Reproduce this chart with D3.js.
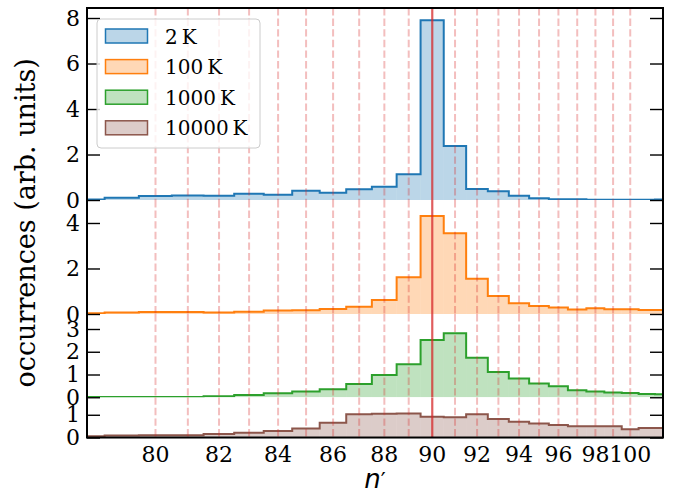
<html>
<head>
<script src="https://d3js.org/d3.v7.min.js"></script>
<style>
  body { margin: 0; background: #fff; }
</style>
</head>
<body>
<svg width="674" height="493"></svg>
<script>
// bins centred on integer n', edges at n' +- 0.5
var nVals = d3.range(78, 103);
var series2K = [0.02,0.10,0.18,0.20,0.19,0.28,0.23,0.41,0.32,0.47,0.58,1.13,7.90,2.37,0.48,0.38,0.19,0.08,0.03,0.03,0.01,0.01,0.01,0.01,0.02];
var series100K = [0.03,0.06,0.09,0.09,0.06,0.10,0.15,0.16,0.22,0.32,0.62,1.61,4.31,3.55,1.55,0.79,0.47,0.35,0.28,0.20,0.25,0.21,0.21,0.18,0.17];
var series1000K = [0.01,0.01,0.01,0.01,0.04,0.10,0.18,0.25,0.35,0.58,0.98,1.45,2.52,2.81,1.74,1.11,0.82,0.60,0.48,0.31,0.25,0.21,0.19,0.14,0.13];
var series10000K = [0.06,0.09,0.10,0.10,0.15,0.21,0.29,0.40,0.65,1.02,1.04,1.06,0.91,0.89,1.02,0.81,0.69,0.62,0.55,0.50,0.50,0.50,0.36,0.42,0.42];
var labels = ["2\u2009K", "100\u2009K", "1000\u2009K", "10000\u2009K"];
var colors = ["#1f77b4", "#ff7f0e", "#2ca02c", "#8c564b"];
var yMax = [8.44, 5.01, 3.66, 1.77];
var yTicks = [[0, 2, 4, 6, 8], [0, 2, 4], [0, 1, 2, 3], [0, 1]];
var xTicks = [80, 82, 84, 86, 88, 90, 92, 94, 96, 98, 100];
var refLines = d3.range(80, 101);
var nRes = 90;

var allSeries = [series2K, series100K, series1000K, series10000K];
var serif = "'DejaVu Serif', serif";

var svg = d3.select("svg");
var plotLeft = 87, plotRight = 663, plotTop = 8, pxPerUnit = 22.75;

// x axis is linear in -1/n'^2
function tr(n) { return -1 / (n * n); }
var X = d3.scaleLinear().domain([tr(78), tr(102)]).range([plotLeft, plotRight]);
function xn(n) { return X(tr(n)); }

var panelTop = plotTop;
allSeries.forEach(function(vals, k) {
  var h = yMax[k] * pxPerUnit;
  var Y = d3.scaleLinear().domain([0, yMax[k]]).range([panelTop + h, panelTop]);
  var g = svg.append("g");
  var clipId = "clip" + k;
  g.append("clipPath").attr("id", clipId)
    .append("rect").attr("x", plotLeft).attr("y", panelTop).attr("width", plotRight - plotLeft).attr("height", h);
  var body = g.append("g").attr("clip-path", "url(#" + clipId + ")");

  var bins = nVals.map(function(n, i) { return {lo: n - 0.5, hi: n + 0.5, v: vals[i]}; });

  body.selectAll("rect.bar").data(bins).enter().append("rect")
    .attr("class", "bar")
    .attr("x", function(d) { return xn(d.lo); })
    .attr("width", function(d) { return xn(d.hi) - xn(d.lo); })
    .attr("y", function(d) { return Y(d.v); })
    .attr("height", function(d) { return Y(0) - Y(d.v); })
    .style("fill", colors[k])
    .style("fill-opacity", 0.3);

  var pts = [];
  bins.forEach(function(d) { pts.push([d.lo, d.v]); pts.push([d.hi, d.v]); });
  var line = d3.line().x(function(d) { return xn(d[0]); }).y(function(d) { return Y(d[1]); });
  body.append("path").attr("d", line(pts))
    .style("fill", "none").style("stroke", colors[k]).style("stroke-width", 2);

  body.selectAll("line.ref").data(refLines.filter(function(n) { return n != nRes; })).enter().append("line")
    .attr("x1", xn).attr("x2", xn).attr("y1", panelTop).attr("y2", panelTop + h)
    .style("stroke", "#d62728").style("stroke-opacity", 0.3).style("stroke-width", 2)
    .style("stroke-dasharray", "7.4,3.2");
  body.append("line")
    .attr("x1", xn(nRes)).attr("x2", xn(nRes)).attr("y1", panelTop).attr("y2", panelTop + h)
    .style("stroke", "#d62728").style("stroke-opacity", 0.75).style("stroke-width", 2.2);

  // y ticks, inward on both sides
  var yl = d3.axisLeft(Y).tickValues(yTicks[k]).tickSize(-13).tickPadding(20).tickFormat(d3.format("d"));
  var ga = svg.append("g").attr("transform", "translate(" + plotLeft + ",0)").call(yl);
  var yr = d3.axisRight(Y).tickValues(yTicks[k]).tickSize(-13).tickFormat("");
  var gb = svg.append("g").attr("transform", "translate(" + plotRight + ",0)").call(yr);
  [ga, gb].forEach(function(a) {
    a.attr("font-family", null).attr("font-size", null);
    a.select(".domain").remove();
    a.selectAll(".tick line").style("stroke", "#000").style("stroke-width", 1.4);
  });
  ga.selectAll(".tick text").style("font-family", serif).style("font-size", "22px")
    .style("fill", "#000").attr("x", -7);

  panelTop += h;
});
var plotBottom = panelTop;

// spines
svg.append("rect").attr("x", plotLeft).attr("y", plotTop).attr("width", plotRight - plotLeft).attr("height", plotBottom - plotTop)
  .style("fill", "none").style("stroke", "#000").style("stroke-width", 2);

// x tick labels
svg.append("g").selectAll("text").data(xTicks).enter().append("text")
  .attr("x", xn).attr("y", plotBottom + 24)
  .attr("text-anchor", "middle")
  .style("font-family", serif)
  .style("font-size", "22px")
  .text(function(d) { return d; });

var xl = svg.append("text").attr("x", (plotLeft + plotRight) / 2).attr("y", 488)
  .attr("text-anchor", "middle")
  .style("font-family", "'DejaVu Sans', sans-serif").style("font-size", "26px");
xl.append("tspan").style("font-style", "italic").text("n");
xl.append("tspan").style("font-size", "22px").text("\u2032");

svg.append("text")
  .attr("transform", "translate(35," + ((plotTop + plotBottom) / 2) + ") rotate(-90)")
  .attr("text-anchor", "middle")
  .style("font-family", serif)
  .style("font-size", "27px")
  .text("occurrences (arb. units)");

// legend
var lg = svg.append("g");
lg.append("rect").attr("x", 97).attr("y", 19).attr("width", 163).attr("height", 129)
  .attr("rx", 4).style("fill", "#fff").style("fill-opacity", 0.8)
  .style("stroke", "#ccc").style("stroke-width", 1);
labels.forEach(function(lab, i) {
  var cy = 36 + i * 30.6;
  lg.append("rect").attr("x", 105.5).attr("y", cy - 7).attr("width", 42).attr("height", 14)
    .style("fill", colors[i]).style("fill-opacity", 0.3)
    .style("stroke", colors[i]).style("stroke-width", 1.5);
  lg.append("text").attr("x", 165).attr("y", cy + 7.5)
    .style("font-family", serif)
    .style("font-size", "20px").text(lab);
});
</script>
</body>
</html>
